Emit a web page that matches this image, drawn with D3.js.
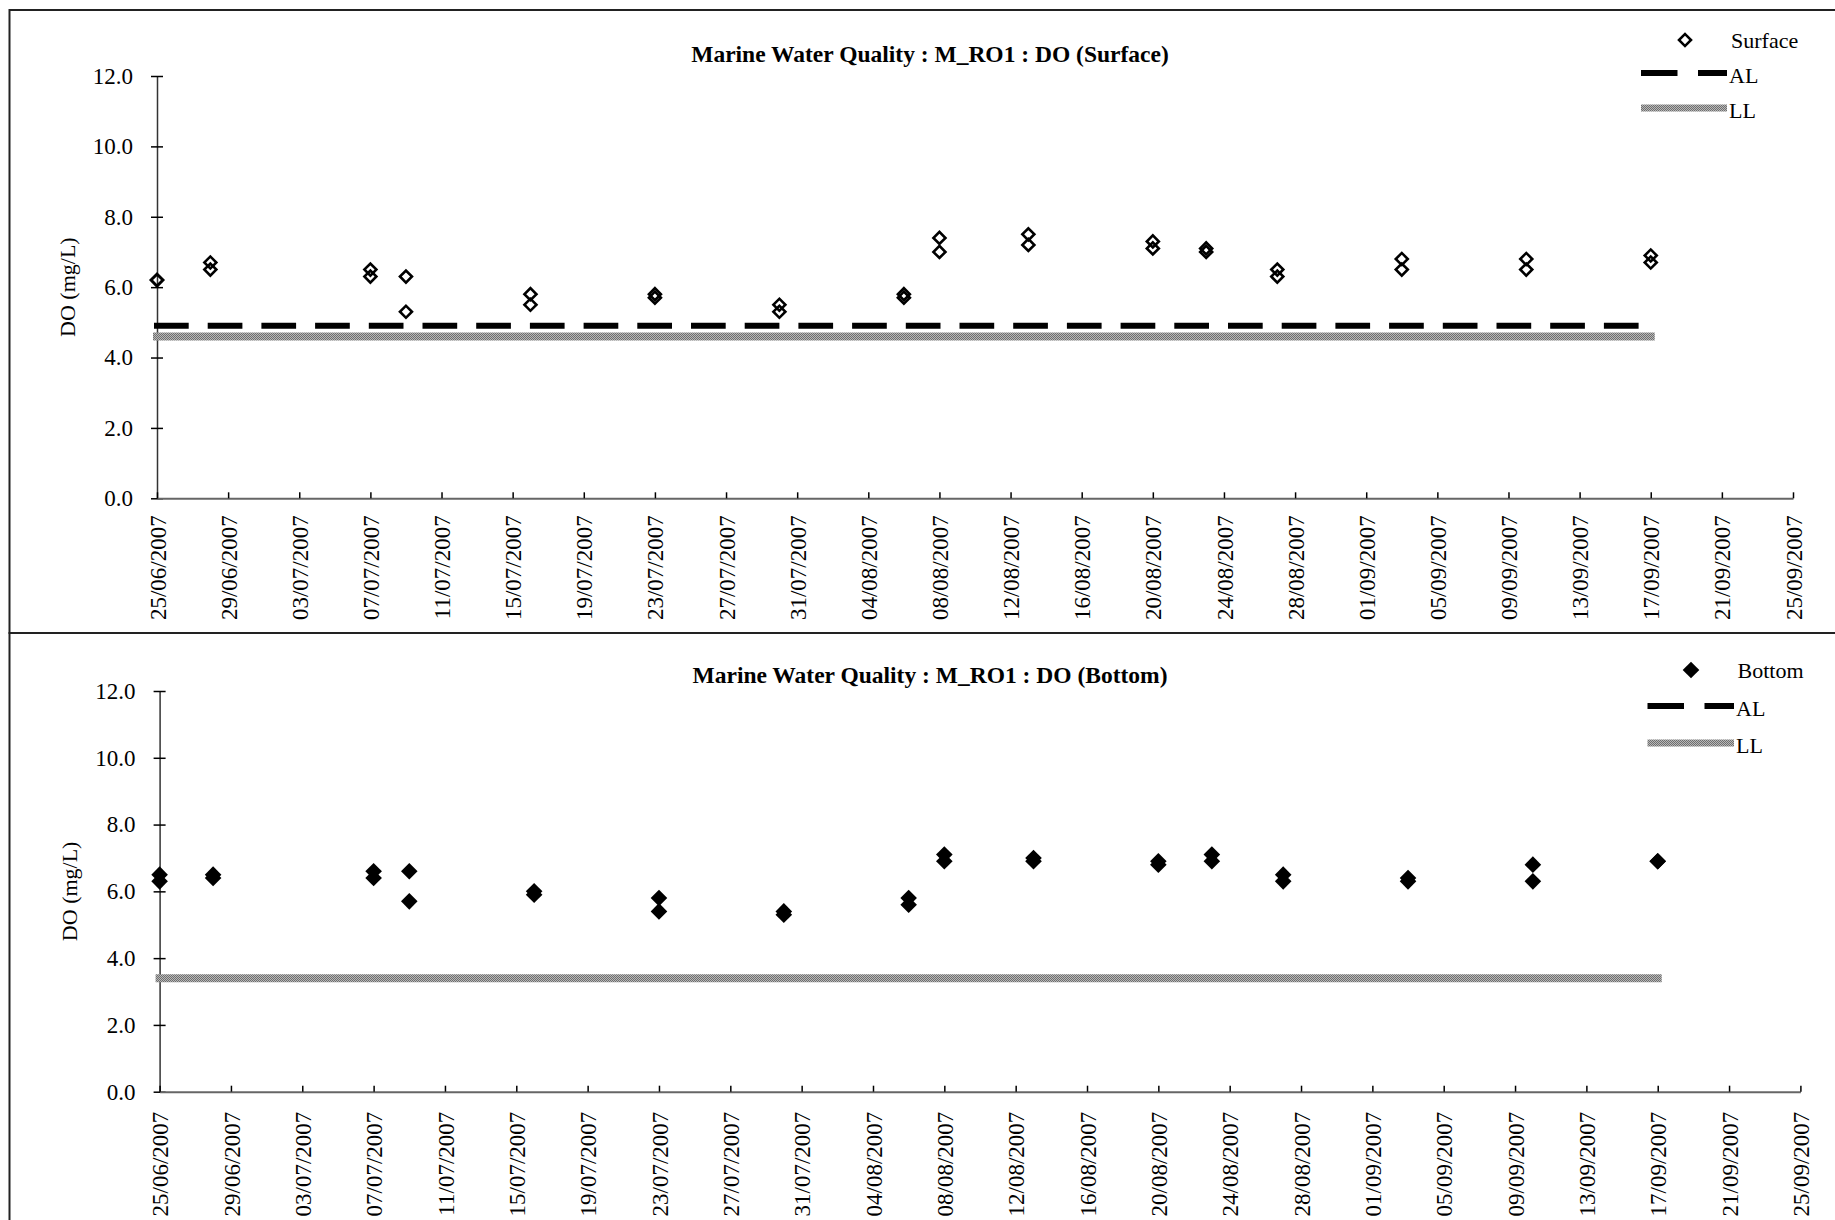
<!DOCTYPE html>
<html>
<head>
<meta charset="utf-8">
<script src="https://cdn.jsdelivr.net/npm/d3@7"></script>
<style>
  body { margin: 0; background: #fff; }
  svg text { font-family: "Liberation Serif", "Times New Roman", serif; fill: #000; }
</style>
</head>
<body>
<div id="graphic"></div>
<script>
// sampling dates, two readings taken on each date
const sampleDates = ["25/06/2007", "28/06/2007", "07/07/2007", "09/07/2007", "16/07/2007", "23/07/2007",
  "30/07/2007", "06/08/2007", "08/08/2007", "13/08/2007", "20/08/2007", "23/08/2007",
  "27/08/2007", "03/09/2007", "10/09/2007", "17/09/2007"];

const surfaceRead1 = [6.2, 6.7, 6.5, 6.3, 5.8, 5.8, 5.5, 5.8, 7.4, 7.5, 7.3, 7.1, 6.5, 6.8, 6.8, 6.9];
const surfaceRead2 = [6.2, 6.5, 6.3, 5.3, 5.5, 5.7, 5.3, 5.7, 7.0, 7.2, 7.1, 7.0, 6.3, 6.5, 6.5, 6.7];

const bottomRead1 = [6.5, 6.5, 6.6, 6.6, 6.0, 5.8, 5.4, 5.8, 7.1, 7.0, 6.9, 7.1, 6.5, 6.4, 6.8, 6.9];
const bottomRead2 = [6.3, 6.4, 6.4, 5.7, 5.9, 5.4, 5.3, 5.6, 6.9, 6.9, 6.8, 6.9, 6.3, 6.3, 6.3, 6.9];

// action level / limit level
const surfaceAL = 4.9, surfaceLL = 4.6;
const bottomAL = null, bottomLL = 3.4;

const yTicks = [0, 2, 4, 6, 8, 10, 12];
const xTickLabels = ["25/06/2007", "29/06/2007", "03/07/2007", "07/07/2007", "11/07/2007", "15/07/2007",
  "19/07/2007", "23/07/2007", "27/07/2007", "31/07/2007", "04/08/2007", "08/08/2007",
  "12/08/2007", "16/08/2007", "20/08/2007", "24/08/2007", "28/08/2007", "01/09/2007",
  "05/09/2007", "09/09/2007", "13/09/2007", "17/09/2007", "21/09/2007", "25/09/2007"];

const parseDate = d3.timeParse("%d/%m/%Y");
const fmtDate = d3.timeFormat("%d/%m/%Y");

var svg = d3.select("#graphic").append("svg")
  .attr("width", 1835)
  .attr("height", 1220);

// dotted grey fill used by the LL line
var pat = svg.append("defs").append("pattern")
  .attr("id", "llFill")
  .attr("width", 2).attr("height", 2)
  .attr("patternUnits", "userSpaceOnUse");
pat.append("rect").attr("width", 2).attr("height", 2).attr("fill", "#b8b8b8");
pat.append("rect").attr("width", 1).attr("height", 1).attr("fill", "#6e6e6e");
pat.append("rect").attr("x", 1).attr("y", 1).attr("width", 1).attr("height", 1).attr("fill", "#6e6e6e");

function drawPanel(p) {
  // panel frame
  svg.append("rect")
    .attr("x", 9.5).attr("y", p.boxY)
    .attr("width", 1900).attr("height", p.boxH)
    .attr("fill", "none")
    .attr("stroke", "#222")
    .attr("stroke-width", 2);

  var x = d3.scaleTime()
    .domain([parseDate(xTickLabels[0]), parseDate(xTickLabels[xTickLabels.length - 1])])
    .range([p.x0, p.x1]);

  var y = d3.scaleLinear()
    .domain([0, 12])
    .range([p.yBottom, p.yTop]);

  // y axis, ticks crossing the line
  var gy = svg.append("g")
    .attr("transform", `translate(${p.x0},0)`)
    .call(d3.axisLeft(y).tickValues(yTicks).tickFormat(d3.format(".1f")).tickSizeOuter(0).tickSizeInner(6).tickPadding(18));
  gy.select(".domain").attr("stroke", "#333").attr("stroke-width", 1.5);
  gy.selectAll(".tick line").attr("x1", -6).attr("x2", 6).attr("stroke", "#000").attr("stroke-width", 1.5);
  gy.selectAll(".tick text").style("font-size", "23px").style("font-family", "'Liberation Serif', serif");

  // x axis, ticks pointing up, labels rotated
  var gx = svg.append("g")
    .attr("transform", `translate(0,${p.yBottom})`)
    .call(d3.axisBottom(x).tickValues(xTickLabels.map(parseDate)).tickFormat(fmtDate).tickSizeOuter(0).tickSizeInner(-6));
  gx.select(".domain").attr("stroke", "#666").attr("stroke-width", 2);
  gx.selectAll(".tick line").attr("stroke", "#000").attr("stroke-width", 1.5);
  gx.selectAll(".tick text")
    .attr("transform", "rotate(-90)")
    .attr("x", -p.labelGap)
    .attr("y", 0)
    .attr("dy", "0.35em")
    .style("text-anchor", "end")
    .style("font-size", "23px")
    .style("font-family", "'Liberation Serif', serif");

  // y axis title
  svg.append("text")
    .attr("transform", `translate(${p.labelX},${(p.yBottom + p.yTop) / 2}) rotate(-90)`)
    .attr("text-anchor", "middle")
    .attr("dy", "0.35em")
    .style("font-size", "22px")
    .text("DO (mg/L)");

  // chart title
  svg.append("text")
    .attr("x", 930).attr("y", p.titleY)
    .attr("text-anchor", "middle")
    .style("font-size", "23.5px")
    .style("font-weight", "bold")
    .text(p.title);

  var first = parseDate(sampleDates[0]), last = parseDate(sampleDates[sampleDates.length - 1]);

  // limit level (grey) and action level (dashed)
  if (p.ll != null) {
    svg.append("line")
      .attr("x1", x(first)).attr("x2", x(last))
      .attr("y1", y(p.ll)).attr("y2", y(p.ll))
      .attr("stroke", "url(#llFill)")
      .attr("stroke-width", 8)
      .attr("stroke-linecap", "square");
  }
  if (p.al != null) {
    svg.append("line")
      .attr("x1", x(first)).attr("x2", x(last))
      .attr("y1", y(p.al)).attr("y2", y(p.al))
      .attr("stroke", "#000")
      .attr("stroke-width", 6)
      .attr("stroke-dasharray", "28.7,25")
      .attr("stroke-linecap", "square");
  }

  // readings
  var pts = [];
  sampleDates.forEach((d, i) => {
    pts.push({ date: parseDate(d), v: p.read1[i] });
    pts.push({ date: parseDate(d), v: p.read2[i] });
  });

  var diamond = d3.symbol().type(d3.symbolSquare).size(p.filled ? 138 : 72);

  svg.selectAll(null)
    .data(pts)
    .enter()
    .append("path")
    .attr("d", diamond)
    .attr("transform", d => `translate(${x(d.date)},${y(d.v)}) rotate(45)`)
    .attr("fill", p.filled ? "#000" : "none")
    .attr("stroke", p.filled ? "none" : "#000")
    .attr("stroke-width", 2.6);

  // legend
  var lg = p.legend;
  svg.append("path")
    .attr("d", diamond)
    .attr("transform", `translate(${lg.markX},${lg.rows[0]}) rotate(45)`)
    .attr("fill", p.filled ? "#000" : "none")
    .attr("stroke", p.filled ? "none" : "#000")
    .attr("stroke-width", 2.6);
  svg.append("text")
    .attr("x", lg.textX).attr("y", lg.rows[0])
    .attr("dy", "0.35em")
    .style("font-size", "22px")
    .text(p.name);

  svg.append("line")
    .attr("x1", lg.lineX0).attr("x2", lg.lineX1)
    .attr("y1", lg.rows[1]).attr("y2", lg.rows[1])
    .attr("stroke", "#000")
    .attr("stroke-width", 6)
    .attr("stroke-dasharray", "36.5,20.5,100");
  svg.append("text")
    .attr("x", lg.lineX1 + 2).attr("y", lg.rows[1] + 2)
    .attr("dy", "0.35em")
    .style("font-size", "22px")
    .text("AL");

  svg.append("line")
    .attr("x1", lg.lineX0).attr("x2", lg.lineX1)
    .attr("y1", lg.rows[2]).attr("y2", lg.rows[2])
    .attr("stroke", "url(#llFill)")
    .attr("stroke-width", 7);
  svg.append("text")
    .attr("x", lg.lineX1 + 2).attr("y", lg.rows[2] + 2)
    .attr("dy", "0.35em")
    .style("font-size", "22px")
    .text("LL");
}

drawPanel({
  boxY: 10, boxH: 623,
  x0: 157, x1: 1793, yBottom: 498.3, yTop: 76,
  labelGap: 17, labelX: 67, titleY: 62,
  title: "Marine Water Quality : M_RO1 : DO (Surface)",
  name: "Surface",
  read1: surfaceRead1, read2: surfaceRead2,
  al: surfaceAL, ll: surfaceLL,
  filled: false,
  legend: { markX: 1685, textX: 1731, lineX0: 1641, lineX1: 1727, rows: [40, 73, 108] }
});

drawPanel({
  boxY: 633, boxH: 700,
  x0: 159.6, x1: 1800.4, yBottom: 1091.7, yTop: 691,
  labelGap: 20, labelX: 69, titleY: 683,
  title: "Marine Water Quality : M_RO1 : DO (Bottom)",
  name: "Bottom",
  read1: bottomRead1, read2: bottomRead2,
  al: bottomAL, ll: bottomLL,
  filled: true,
  legend: { markX: 1691, textX: 1737.5, lineX0: 1647.5, lineX1: 1734, rows: [670, 706, 743] }
});
</script>
</body>
</html>
